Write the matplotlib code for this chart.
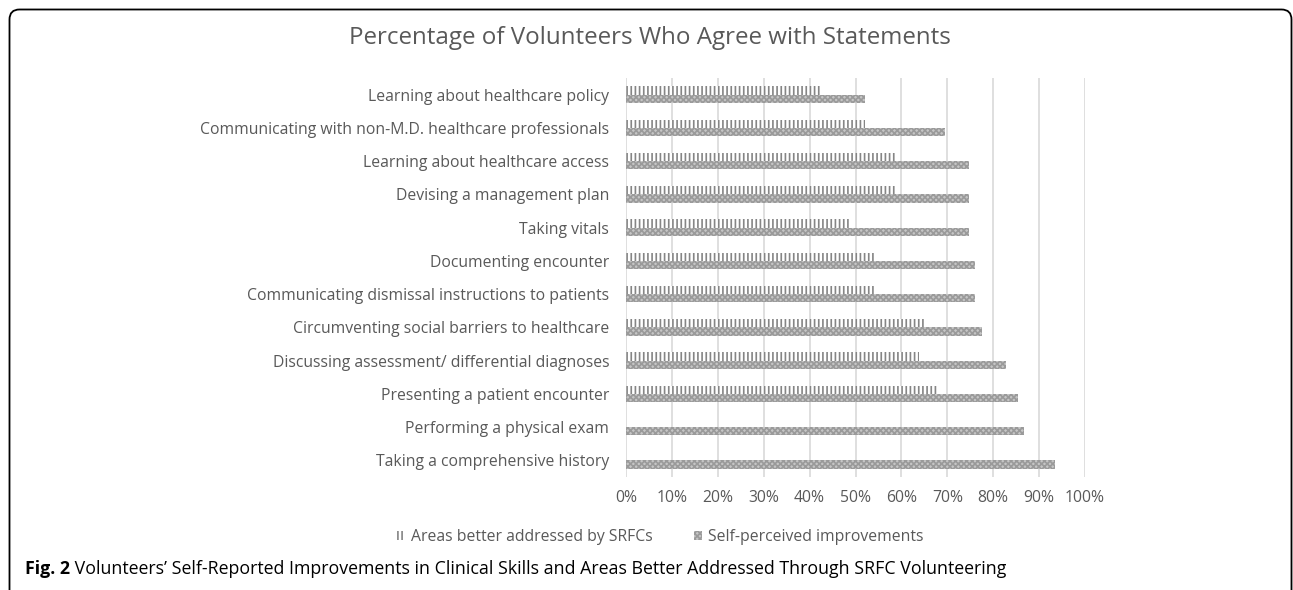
import matplotlib
matplotlib.use("Agg")
import matplotlib.pyplot as plt
from matplotlib.patches import Patch, FancyBboxPatch
from matplotlib.ticker import FuncFormatter, MultipleLocator
import numpy as np

categories = [
    "Learning about healthcare policy",
    "Communicating with non-M.D. healthcare professionals",
    "Learning about healthcare access",
    "Devising a management plan",
    "Taking vitals",
    "Documenting encounter",
    "Communicating dismissal instructions to patients",
    "Circumventing social barriers to healthcare",
    "Discussing assessment/ differential diagnoses",
    "Presenting a patient encounter",
    "Performing a physical exam",
    "Taking a comprehensive history",
]
areas_srfc = [42.6, 52.0, 58.6, 58.6, 49.0, 54.0, 54.0, 65.1, 63.8, 67.8, 0.0, 0.0]
self_perceived = [52.1, 69.4, 74.7, 74.7, 74.7, 76.1, 76.1, 77.5, 82.7, 85.5, 86.8, 93.5]
series_names = ["Areas better addressed by SRFCs", "Self-perceived improvements"]
title = "Percentage of Volunteers Who Agree with Statements"
caption_bold = "Fig. 2"
caption_text = (" Volunteers\u2019 Self-Reported Improvements in Clinical Skills and Areas "
                "Better Addressed Through SRFC Volunteering")

plt.rcParams["font.family"] = ["Open Sans", "DejaVu Sans"]
plt.rcParams["hatch.linewidth"] = 1.2

W, H = 1293, 590
fig = plt.figure(figsize=(W / 100, H / 100), dpi=100)
ax = fig.add_axes([626 / W, 1 - 477 / H, 459 / W, 399 / H])

txt_col = "#595959"
fs = 11.3
y = np.arange(len(categories))
bh = 0.25
srfc_style = dict(facecolor="white", edgecolor="#858585", hatch="||||", linewidth=0)
self_style = dict(facecolor="#c6c6c6", edgecolor="#9a9a9a", hatch="xxxxxx", linewidth=0)
ax.barh(y - bh / 2, np.array(areas_srfc) / 100, height=bh, zorder=3, **srfc_style)
ax.barh(y + bh / 2, np.array(self_perceived) / 100, height=bh, zorder=3, **self_style)

ax.set_xlim(0, 1.0)
ax.set_ylim(len(categories) - 0.5, -0.5)
ax.set_yticks(y)
ax.set_yticklabels(categories, fontsize=fs, color=txt_col)
ax.xaxis.set_major_locator(MultipleLocator(0.1))
ax.xaxis.set_major_formatter(FuncFormatter(lambda v, p: f"{v * 100:.0f}%"))
ax.tick_params(axis="x", length=0, labelsize=fs, labelcolor=txt_col, pad=9)
ax.tick_params(axis="y", length=0, pad=12)
ax.grid(axis="x", color="#d9d9d9", linewidth=1.2, zorder=0)
for s in ax.spines.values():
    s.set_visible(False)

fig.text(650 / W, 1 - 38 / H, title, ha="center", va="center", fontsize=17.4, color=txt_col)

handles = [Patch(**srfc_style), Patch(**self_style)]
leg = fig.legend(handles, series_names, loc="center", bbox_to_anchor=(660 / W, 1 - 537 / H),
                 ncol=2, frameon=False, fontsize=fs, handlelength=0.55, handleheight=0.55,
                 handletextpad=0.4, columnspacing=2.6, borderpad=0, borderaxespad=0)
for t in leg.get_texts():
    t.set_color(txt_col)

t1 = fig.text(25 / W, 1 - 569 / H, caption_bold, ha="left", va="center", fontsize=12.8,
              fontweight="bold", color="black")
fig.canvas.draw()
bb = t1.get_window_extent()
fig.text(bb.x1 / W, 1 - 569 / H, caption_text, ha="left", va="center", fontsize=12.8,
         color="black")

border = FancyBboxPatch((9.5 / 100, -0.5), (1291.5 - 9.5) / 100, (H - 9.5) / 100 + 0.5,
                        boxstyle="round,pad=0,rounding_size=0.1", transform=fig.dpi_scale_trans,
                        facecolor="none", edgecolor="black", linewidth=1.3, clip_on=False)
fig.patches.append(border)

fig.savefig("out.png", dpi=100)
